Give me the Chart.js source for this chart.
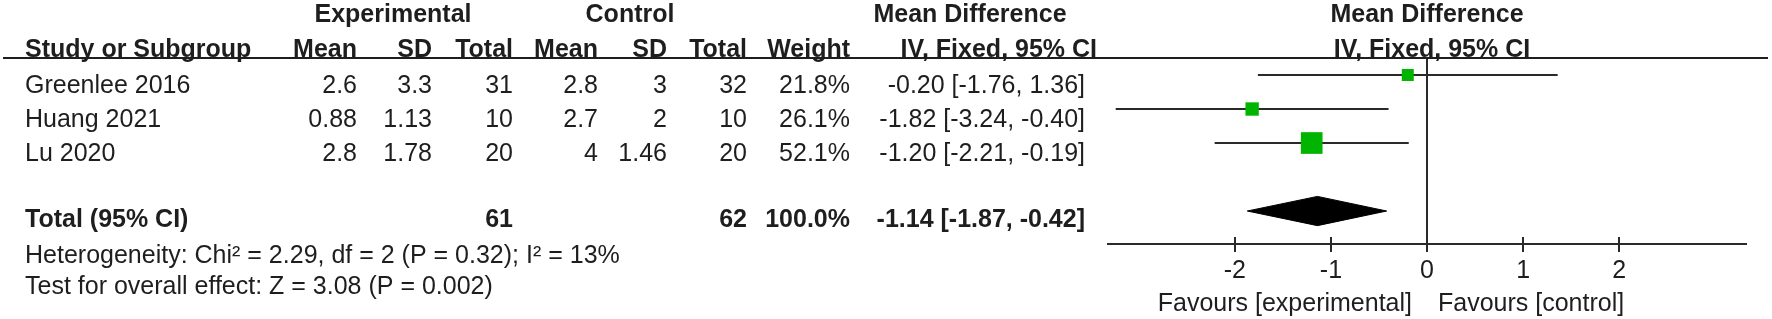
<!DOCTYPE html>
<html>
<head>
<meta charset="utf-8">
<script src="https://cdn.jsdelivr.net/npm/chart.js@4/dist/chart.umd.min.js"></script>
<style>
  html, body { margin: 0; padding: 0; background: #fff; }
  #wrap { width: 1772px; height: 319px; position: relative; }
</style>
</head>
<body>
<div id="wrap"><canvas id="forest"></canvas></div>
<script>
// study level data
const studies = ['Greenlee 2016', 'Huang 2021', 'Lu 2020'];
const expMean = ['2.6', '0.88', '2.8'];
const expSD = ['3.3', '1.13', '1.78'];
const expTotal = [31, 10, 20];
const ctrlMean = ['2.8', '2.7', '4'];
const ctrlSD = ['3', '2', '1.46'];
const ctrlTotal = [32, 10, 20];
const weights = [21.8, 26.1, 52.1];
const meanDiff = [-0.20, -1.82, -1.20];
const ciLow = [-1.76, -3.24, -2.21];
const ciHigh = [1.36, -0.40, -0.19];

// pooled result
const totalN = [61, 62];
const pooled = [-1.87, -1.14, -0.42]; // low, estimate, high
const xTicks = [-2, -1, 0, 1, 2];
const footnotes = [
  'Heterogeneity: Chi\u00b2 = 2.29, df = 2 (P = 0.32); I\u00b2 = 13%',
  'Test for overall effect: Z = 3.08 (P = 0.002)'
];
const favours = ['Favours [experimental]', 'Favours [control]'];

const FONT = '"Liberation Sans", Arial, Helvetica, sans-serif';
const INK = '#1e1e1e';
const LINE = '#2a2a2a';
const GREEN = '#00b400';
const TOTAL_ROW = 5;

// column right edges of the table (left part of the figure)
const col = { study: 25, expMean: 357, expSD: 432, expN: 513, ctrlMean: 598, ctrlSD: 667, ctrlN: 747, weight: 850, ci: 1085 };

const fmt = v => v.toFixed(2);

const tablePlugin = {
  id: 'forestTable',
  afterDraw(chart) {
    const ctx = chart.ctx;
    const ys = chart.scales.y;
    const xs = chart.scales.x;
    const area = chart.chartArea;
    const mid = (area.left + area.right) / 2;
    ctx.save();
    ctx.fillStyle = INK;
    ctx.textBaseline = 'alphabetic';
    // text baseline sits a little under the row centre
    const put = (txt, px, row, align, bold) => {
      ctx.font = (bold ? 'bold ' : '') + '25px ' + FONT;
      ctx.textAlign = align;
      ctx.fillText(String(txt), px, ys.getPixelForValue(row) + 18);
    };

    // headers
    const h1 = -1.088, h2 = -0.059;
    put('Experimental', 393, h1, 'center', true);
    put('Control', 630, h1, 'center', true);
    put('Mean Difference', 970, h1, 'center', true);
    put('Mean Difference', mid, h1, 'center', true);
    put('Study or Subgroup', col.study, h2, 'left', true);
    put('Mean', col.expMean, h2, 'right', true);
    put('SD', col.expSD, h2, 'right', true);
    put('Total', col.expN, h2, 'right', true);
    put('Mean', col.ctrlMean, h2, 'right', true);
    put('SD', col.ctrlSD, h2, 'right', true);
    put('Total', col.ctrlN, h2, 'right', true);
    put('Weight', col.weight, h2, 'right', true);
    put('IV, Fixed, 95% CI', col.ci + 12, h2, 'right', true);
    put('IV, Fixed, 95% CI', mid + 5, h2, 'center', true);

    // header rule
    ctx.strokeStyle = INK;
    ctx.lineWidth = 2;
    ctx.beginPath();
    const ruleY = ys.getPixelForValue(0.5);
    ctx.moveTo(3, ruleY);
    ctx.lineTo(1768, ruleY);
    ctx.stroke();

    // study rows
    studies.forEach((s, i) => {
      const r = i + 1;
      put(s, col.study, r, 'left');
      put(expMean[i], col.expMean, r, 'right');
      put(expSD[i], col.expSD, r, 'right');
      put(expTotal[i], col.expN, r, 'right');
      put(ctrlMean[i], col.ctrlMean, r, 'right');
      put(ctrlSD[i], col.ctrlSD, r, 'right');
      put(ctrlTotal[i], col.ctrlN, r, 'right');
      put(weights[i].toFixed(1) + '%', col.weight, r, 'right');
      put(fmt(meanDiff[i]) + ' [' + fmt(ciLow[i]) + ', ' + fmt(ciHigh[i]) + ']', col.ci, r, 'right');
    });

    // total row
    const tr = TOTAL_ROW - 0.06;
    put('Total (95% CI)', col.study, tr, 'left', true);
    put(totalN[0], col.expN, tr, 'right', true);
    put(totalN[1], col.ctrlN, tr, 'right', true);
    put('100.0%', col.weight, tr, 'right', true);
    put(fmt(pooled[1]) + ' [' + fmt(pooled[0]) + ', ' + fmt(pooled[2]) + ']', col.ci, tr, 'right', true);

    put(footnotes[0], col.study, 6.0, 'left');
    put(footnotes[1], col.study, 6.91, 'left');

    // favours labels under the axis
    const zero = xs.getPixelForValue(0);
    put(favours[0], zero - 15, 7.41, 'right');
    put(favours[1], zero + 11, 7.41, 'left');

    // upper half of the tick marks (the axis draws the lower half)
    const axisY = area.bottom;
    ctx.strokeStyle = LINE;
    ctx.lineWidth = 2;
    xs.ticks.forEach(t => {
      const px = Math.round(xs.getPixelForValue(t.value));
      ctx.beginPath();
      ctx.moveTo(px, axisY - 7);
      ctx.lineTo(px, axisY);
      ctx.stroke();
    });
    ctx.restore();
  }
};

const diamondH = 0.43;
const datasets = [
  {
    label: 'Study estimate',
    data: meanDiff.map((v, i) => ({ x: v, y: i + 1 })),
    pointStyle: 'rect',
    pointRadius: c => (5 + 0.32 * weights[c.dataIndex]) / Math.SQRT2,
    backgroundColor: GREEN,
    borderWidth: 0,
    order: 0
  },
  {
    label: 'Total',
    data: [
      { x: pooled[0], y: TOTAL_ROW },
      { x: pooled[1], y: TOTAL_ROW - diamondH },
      { x: pooled[2], y: TOTAL_ROW },
      { x: pooled[1], y: TOTAL_ROW + diamondH },
      { x: pooled[0], y: TOTAL_ROW }
    ],
    showLine: true,
    fill: 'shape',
    backgroundColor: '#000',
    borderColor: '#000',
    borderWidth: 1,
    pointRadius: 0,
    order: 1
  },
  ...studies.map((s, i) => ({
    label: s + ' CI',
    data: [{ x: ciLow[i], y: i + 1 }, { x: ciHigh[i], y: i + 1 }],
    showLine: true,
    borderColor: LINE,
    borderWidth: 2,
    pointRadius: 0,
    order: 2
  })),
  {
    label: 'No effect',
    data: [{ x: 0, y: 0.5 }, { x: 0, y: 5.97 }],
    showLine: true,
    borderColor: LINE,
    borderWidth: 2,
    pointRadius: 0,
    order: 3
  }
];

new Chart(document.getElementById('forest'), {
  type: 'scatter',
  data: { datasets: datasets },
  options: {
    responsive: true,
    maintainAspectRatio: false,
    animation: false,
    // bottom padding puts the axis line at the right height
    layout: { autoPadding: false, padding: { left: 1108, right: 26, top: 0, bottom: 29 } },
    plugins: { legend: { display: false }, tooltip: { enabled: false } },
    scales: {
      x: {
        type: 'linear',
        min: -3.32,
        max: 3.32,
        position: 'bottom',
        afterBuildTicks: s => { s.ticks = xTicks.map(v => ({ value: v })); },
        grid: { drawOnChartArea: false, drawTicks: true, tickLength: 8, color: LINE, lineWidth: 2 },
        border: { display: true, color: LINE, width: 2 },
        ticks: { color: INK, font: { family: FONT, size: 25 }, padding: 4, maxRotation: 0 }
      },
      y: {
        type: 'linear',
        min: -1.206,
        max: 5.97,
        reverse: true,
        display: false
      }
    }
  },
  plugins: [tablePlugin]
});
</script>
</body>
</html>
